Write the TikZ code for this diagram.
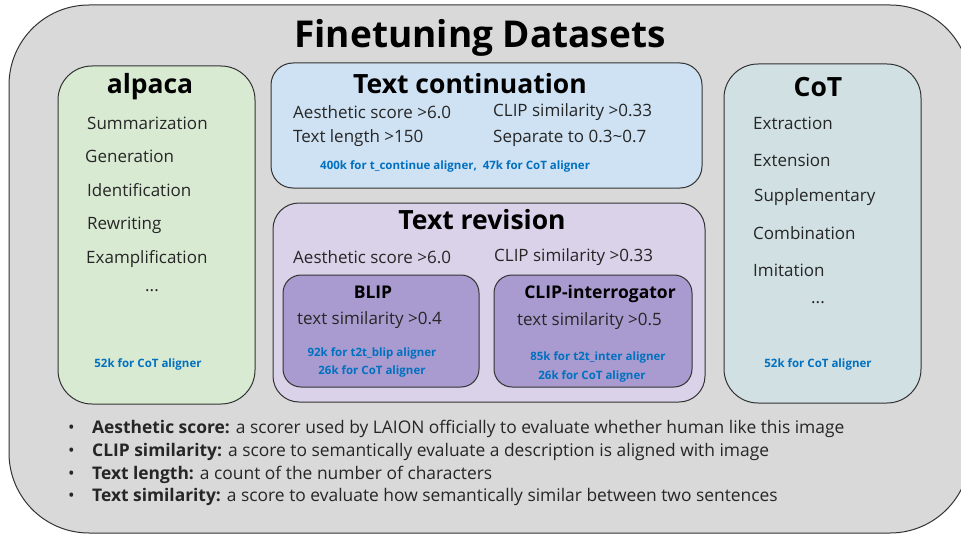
\documentclass[tikz,border=0pt]{standalone}
\usepackage{fontspec}
\setmainfont{Open Sans}
\definecolor{outerfill}{HTML}{D9D9D9}
\definecolor{alpacafill}{HTML}{D9EAD3}
\definecolor{contfill}{HTML}{CFE2F3}
\definecolor{revfill}{HTML}{D9D2E9}
\definecolor{innerfill}{HTML}{A99BCF}
\definecolor{cotfill}{HTML}{D0E0E3}
\definecolor{bluetxt}{HTML}{0070C0}
\definecolor{edge}{HTML}{333333}
\tikzset{
  panel/.style={draw=edge, line width=1pt},
  txt/.style={anchor=west, inner sep=0pt, font=\fontsize{17}{19}\selectfont, text=black!85},
  ctxt/.style={inner sep=0pt, font=\fontsize{17}{19}\selectfont, text=black!85},
  boxtitle/.style={inner sep=0pt, font=\fontsize{26.5}{30}\selectfont\bfseries},
  subtitle/.style={inner sep=0pt, font=\fontsize{17.5}{19}\selectfont\bfseries},
  note/.style={inner sep=0pt, font=\fontsize{11.5}{13}\selectfont\bfseries, text=bluetxt},
  bul/.style={anchor=west, inner sep=0pt, font=\fontsize{17.4}{19}\selectfont, text=black!85},
}
\begin{document}
\begin{tikzpicture}[x=1pt,y=-1pt]
\useasboundingbox (0,0) rectangle (961,535);
% outer panel
\draw[panel, fill=outerfill, rounded corners=80pt] (9,5) rectangle (970,533);
\node[inner sep=0pt, font=\fontsize{37}{42}\selectfont\bfseries] (title) at (480,38) {Finetuning Datasets};

% alpaca
\draw[panel, fill=alpacafill, rounded corners=34pt] (58,66) rectangle (255,404);
\node[boxtitle] (alpaca) at (150,87) {alpaca};
\node[txt] (a1) at (87,123) {Summarization};
\node[txt] (a2) at (85,156) {Generation};
\node[txt] (a3) at (87,190) {Identification};
\node[txt] (a4) at (87,225) {Rewriting};
\node[txt] (a5) at (86,259) {Examplification};
\node[ctxt] (a6) at (152,291) {...};
\node[note] (an) at (148,364) {52k for CoT aligner};

% text continuation
\draw[panel, fill=contfill, rounded corners=22pt] (271,63) rectangle (702,188);
\node[boxtitle] (cont) at (470,84) {Text continuation};
\node[txt] (c1) at (293,112) {Aesthetic score >6.0};
\node[txt] (c2) at (493,112) {CLIP similarity >0.33};
\node[txt] (c3) at (293,138) {Text length >150};
\node[txt] (c4) at (493,138) {Separate to 0.3\char"7E 0.7};
\node[note, anchor=west] (cn) at (320,166) {400k for t\_continue aligner,\ \ 47k for CoT aligner};

% text revision
\draw[panel, fill=revfill, rounded corners=26pt] (273,203) rectangle (705,402);
\node[boxtitle] (rev) at (482,220) {Text revision};
\node[txt] (r1) at (293,257) {Aesthetic score >6.0};
\node[txt] (r2) at (494,257) {CLIP similarity >0.33};

% BLIP
\draw[panel, fill=innerfill, rounded corners=18pt] (283,275) rectangle (479,387);
\node[subtitle] (blip) at (373,292) {BLIP};
\node[txt] (b1) at (297,320) {text similarity >0.4};
\node[note] (bn1) at (372,353) {92k for t2t\_blip aligner};
\node[note] (bn2) at (372,371) {26k for CoT aligner};

% CLIP-interrogator
\draw[panel, fill=innerfill, rounded corners=18pt] (494,275) rectangle (692,387);
\node[subtitle] (ci) at (600,294) {CLIP-interrogator};
\node[txt] (ci1) at (517,321) {text similarity >0.5};
\node[note] (cin1) at (598,357) {85k for t2t\_inter aligner};
\node[note] (cin2) at (592,376) {26k for CoT aligner};

% CoT
\draw[panel, fill=cotfill, rounded corners=34pt] (724,64) rectangle (921,403);
\node[boxtitle] (cot) at (818,87) {CoT};
\node[txt] (t1) at (753,123) {Extraction};
\node[txt] (t2) at (753,160) {Extension};
\node[txt] (t3) at (754,197) {Supplementary};
\node[txt] (t4) at (753,233) {Combination};
\node[txt] (t5) at (753,270) {Imitation};
\node[ctxt] (t6) at (818,303) {...};
\node[note] (tn) at (818,364) {52k for CoT aligner};

% bullets
\foreach \yy/\nm in {429/d1,452/d2,475/d3,497/d4}{
  \node[bul] (\nm b) at (68,\yy) {•};
}
\node[bul] (d1) at (92,429) {\textbf{Aesthetic score:} a scorer used by LAION officially to evaluate whether human like this image};
\node[bul] (d2) at (92,452) {\textbf{CLIP similarity:} a score to semantically evaluate a description is aligned with image};
\node[bul] (d3) at (92,475) {\textbf{Text length:} a count of the number of characters};
\node[bul] (d4) at (92,497) {\textbf{Text similarity:} a score to evaluate how semantically similar between two sentences};
\end{tikzpicture}
\end{document}
